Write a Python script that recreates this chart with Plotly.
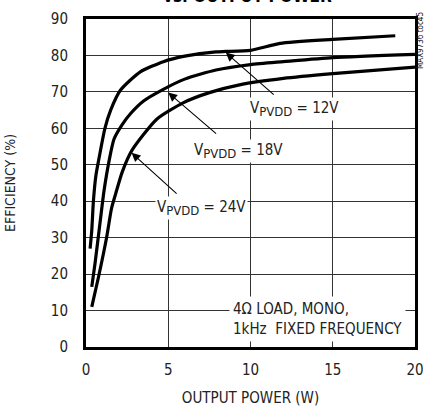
import plotly.graph_objects as go

# Efficiency vs output power, MAX9736, 4 ohm load, mono
p_12v = [0.25, 0.35, 0.45, 0.6, 0.8, 1.15, 1.5, 2.1, 3.3, 4.7, 6.0, 7.9, 8.5, 10.0, 11.8, 15.0, 18.8]
e_12v = [27, 32, 40, 47, 52, 60, 65, 70.5, 75.5, 78.3, 79.8, 81.0, 81.1, 81.4, 83.3, 84.4, 85.4]

p_18v = [0.35, 0.55, 0.85, 1.1, 1.4, 1.7, 2.2, 2.7, 3.5, 4.7, 6.0, 7.9, 10.0, 12.0, 15.0, 20.0]
e_18v = [16.5, 23, 34, 43, 51, 57, 61, 64, 67.5, 70.7, 73.5, 76.0, 77.5, 78.3, 79.4, 80.3]

p_24v = [0.35, 0.75, 1.25, 1.55, 1.8, 2.2, 2.8, 4.3, 5.9, 7.5, 9.4, 12.0, 15.0, 20.0]
e_24v = [11, 19, 30, 38, 42, 48, 54, 62.5, 67, 69.8, 72, 73.7, 75, 76.8]

x_ticks = [0, 5, 10, 15, 20]
y_ticks = [0, 10, 20, 30, 40, 50, 60, 70, 80, 90]

FONT = "DejaVu Sans Condensed, Liberation Sans Narrow, sans-serif"

fig = go.Figure()
for px, ey in [(p_12v, e_12v), (p_18v, e_18v), (p_24v, e_24v)]:
    fig.add_trace(go.Scatter(x=px, y=ey, mode="lines", line=dict(color="black", width=3.2, shape="spline", smoothing=0.6),
                             showlegend=False, hoverinfo="skip"))

axis_common = dict(showgrid=True, gridcolor="#333333", gridwidth=1, zeroline=False,
                   showline=True, linecolor="black", linewidth=3, mirror=True,
                   ticks="", ticklabeloverflow="allow", automargin=False,
                   tickfont=dict(family=FONT, size=15, color="#222222"))

fig.update_xaxes(range=[0, 20], tickvals=x_ticks, ticklabelstandoff=7,
                 title=dict(text="OUTPUT POWER (W)", font=dict(family=FONT, size=15, color="#222222"), standoff=16),
                 **axis_common)
fig.update_yaxes(range=[0, 90], tickvals=y_ticks, ticklabelstandoff=12,
                 title=dict(text="EFFICIENCY (%)", font=dict(family=FONT, size=14, color="#222222"), standoff=32),
                 **axis_common)

ann_font = dict(family=FONT, size=15, color="#222222")

# arrows (tail -> head on curve)
arrows = [((11.5, 68.9), (8.5, 80.8)),
          ((8.0, 58.2), (5.0, 69.8)),
          ((5.6, 41.7), (2.77, 53.3))]
for (tx, ty), (hx, hy) in arrows:
    fig.add_annotation(x=hx, y=hy, ax=tx, ay=ty, xref="x", yref="y", axref="x", ayref="y",
                       text="", showarrow=True, arrowhead=2, arrowsize=1.6, arrowwidth=1.1,
                       arrowcolor="black")

sub = "V<sub><span style='font-size:13px'>PVDD</span></sub> = {}"
labels = [(sub.format("12V"), 9.85, 65.3),
          (sub.format("18V"), 6.43, 53.8),
          (sub.format("24V"), 4.2, 38.2)]
for txt, lx, ly in labels:
    fig.add_annotation(x=lx, y=ly, xref="x", yref="y", text=txt, showarrow=False,
                       xanchor="left", yanchor="middle", font=ann_font, bgcolor="white", borderpad=1)

fig.add_annotation(x=14.05, y=7.7, xref="x", yref="y",
                   text="4Ω LOAD, MONO,<br>1kHz  FIXED FREQUENCY", showarrow=False, align="left",
                   xanchor="center", yanchor="middle", font=ann_font, bgcolor="white", borderpad=3)

# title (cropped at top)
fig.add_annotation(x=0.49, y=1.0, xref="paper", yref="paper", yshift=23, text="<b>vs. OUTPUT POWER</b>",
                   showarrow=False, xanchor="center", yanchor="middle",
                   font=dict(family=FONT, size=17, color="black"))

fig.add_annotation(x=1.0, y=1.0, xref="paper", yref="paper", xshift=5, yshift=-22,
                   text="MAX9736 toc45", textangle=-90, showarrow=False,
                   xanchor="center", yanchor="middle", font=dict(family=FONT, size=8, color="#111111"))

fig.update_layout(width=425, height=407, margin=dict(l=86, r=10, t=19, b=60),
                  plot_bgcolor="white", paper_bgcolor="white", font=dict(family=FONT))

fig.write_html("out.html", config={"displayModeBar": False},
               post_script="document.body.style.margin='0';")
